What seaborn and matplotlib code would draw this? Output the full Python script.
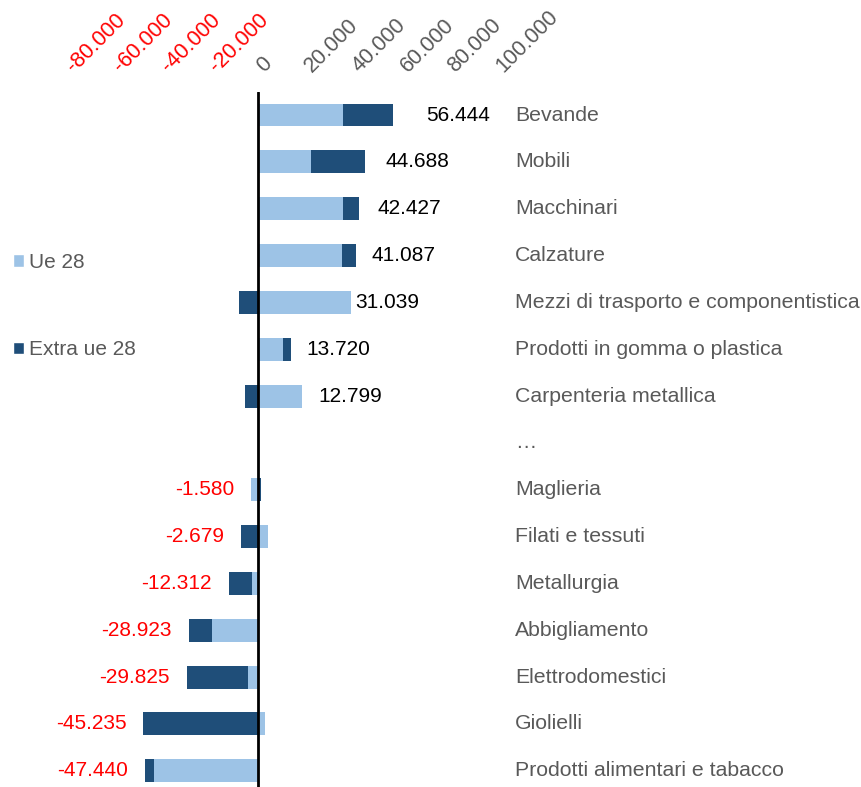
import numpy as np
import pandas as pd
import matplotlib
matplotlib.use("Agg")
import matplotlib.pyplot as plt
from matplotlib.patches import Patch
from matplotlib.transforms import blended_transform_factory, ScaledTranslation
import seaborn as sns

# ---------------- data ----------------
categories = ["Bevande", "Mobili", "Macchinari", "Calzature",
              "Mezzi di trasporto e componentistica", "Prodotti in gomma o plastica",
              "Carpenteria metallica", "…", "Maglieria", "Filati e tessuti",
              "Metallurgia", "Abbigliamento", "Elettrodomestici", "Giolielli",
              "Prodotti alimentari e tabacco"]
ue28 = [35600, 22400, 35800, 35300, 39139, 10600, 18299, np.nan,
        -2900, 4400, -2500, -19400, -4200, 2800, -43600]
extra_ue28 = [20844, 22288, 6627, 5787, -8100, 3120, -5500, np.nan,
              1320, -7079, -9812, -9523, -25625, -48035, -3840]
xticks = [-80000, -60000, -40000, -20000, 0, 20000, 40000, 60000, 80000, 100000]
series_names = ["Ue 28", "Extra ue 28"]

# ---------------- style ----------------
LIGHT = "#9DC3E6"
DARK = "#1F4E79"
GREY = "#595959"
RED = "#FF0000"
# label gaps (px) to the right of positive bars
label_gap_px = [34, 21, 18, 16, 4, 16, 17, 0, 17, 17, 17, 16, 17, 18, 21]

sns.set_theme(style="white")
plt.rcParams["font.family"] = ["Liberation Sans", "DejaVu Sans"]

W, H = 861, 787
fig = plt.figure(figsize=(W / 100, H / 100), dpi=100)
ax_top_px = 91.6
ax = fig.add_axes([19.5 / W, 0, 477 / W, 1 - ax_top_px / H])

ue = np.array(ue28, dtype=float)
ex = np.array(extra_ue28, dtype=float)
pos = np.arange(len(categories))

df = pd.DataFrame({"cat": categories, "ue": ue}).dropna()
sns.barplot(data=df, x="ue", y="cat", order=categories, orient="h",
            color=LIGHT, saturation=1, width=0.49, linewidth=0, ax=ax)

left = np.where(np.sign(ue) == np.sign(ex), ue, 0.0)
ax.barh(pos, ex, left=left, height=0.49, color=DARK, linewidth=0)

ax.axvline(0, color="black", lw=2, zorder=5)

# axis setup
ax.set_xlim(-100000, 100000)
px_per_row = 46.84
rows_span = (H - ax_top_px) / px_per_row
ax.set_ylim(-0.5 + rows_span, -0.5)
for s in ax.spines.values():
    s.set_visible(False)
ax.set_ylabel("")
ax.set_xlabel("")
ax.set_yticks([])
ax.xaxis.set_ticks_position("top")
ax.set_xticks(xticks)
ax.set_xticklabels([f"{v:,.0f}".replace(",", ".") for v in xticks])
ax.tick_params(axis="x", length=0, pad=7, labelsize=15.5, top=True, bottom=False,
               labeltop=True, labelbottom=False)
shift = ScaledTranslation(10 / 100, 5 / 100, fig.dpi_scale_trans)
for lab, v in zip(ax.get_xticklabels(), xticks):
    lab.set_rotation(45)
    lab.set_ha("left")
    lab.set_va("bottom")
    lab.set_rotation_mode("anchor")
    lab.set_color(RED if v < 0 else GREY)
    lab.set_transform(lab.get_transform() + shift)

# value labels
for i in range(len(categories)):
    if np.isnan(ue[i]):
        continue
    total = ue[i] + ex[i]
    txt = f"{total:,.0f}".replace(",", ".")
    if total >= 0:
        end = max(ue[i], 0) + max(ex[i], 0)
        ax.annotate(txt, (end, i), xytext=(label_gap_px[i] * 0.72, 0),
                    textcoords="offset points", ha="left", va="center",
                    fontsize=15, color="black")
    else:
        end = min(ue[i], 0) + min(ex[i], 0)
        ax.annotate(txt, (end, i), xytext=(-17 * 0.72, 0),
                    textcoords="offset points", ha="right", va="center",
                    fontsize=15, color=RED)

# category labels on the right
tr = blended_transform_factory(fig.transFigure, ax.transData)
for i, c in enumerate(categories):
    ax.text(515 / W, i, c, transform=tr, ha="left", va="center",
            fontsize=15.3, color=GREY, clip_on=False)

# legend
handles = [Patch(facecolor=LIGHT, label=series_names[0]),
           Patch(facecolor=DARK, label=series_names[1])]
fig.legend(handles=handles, loc="center left", bbox_to_anchor=(13 / W, 1 - 306 / H),
           frameon=False, fontsize=15, handlelength=0.55, handleheight=0.55,
           handletextpad=0.2, labelspacing=3.3, borderpad=0, borderaxespad=0,
           labelcolor=GREY)

fig.savefig("out.png", dpi=100)
